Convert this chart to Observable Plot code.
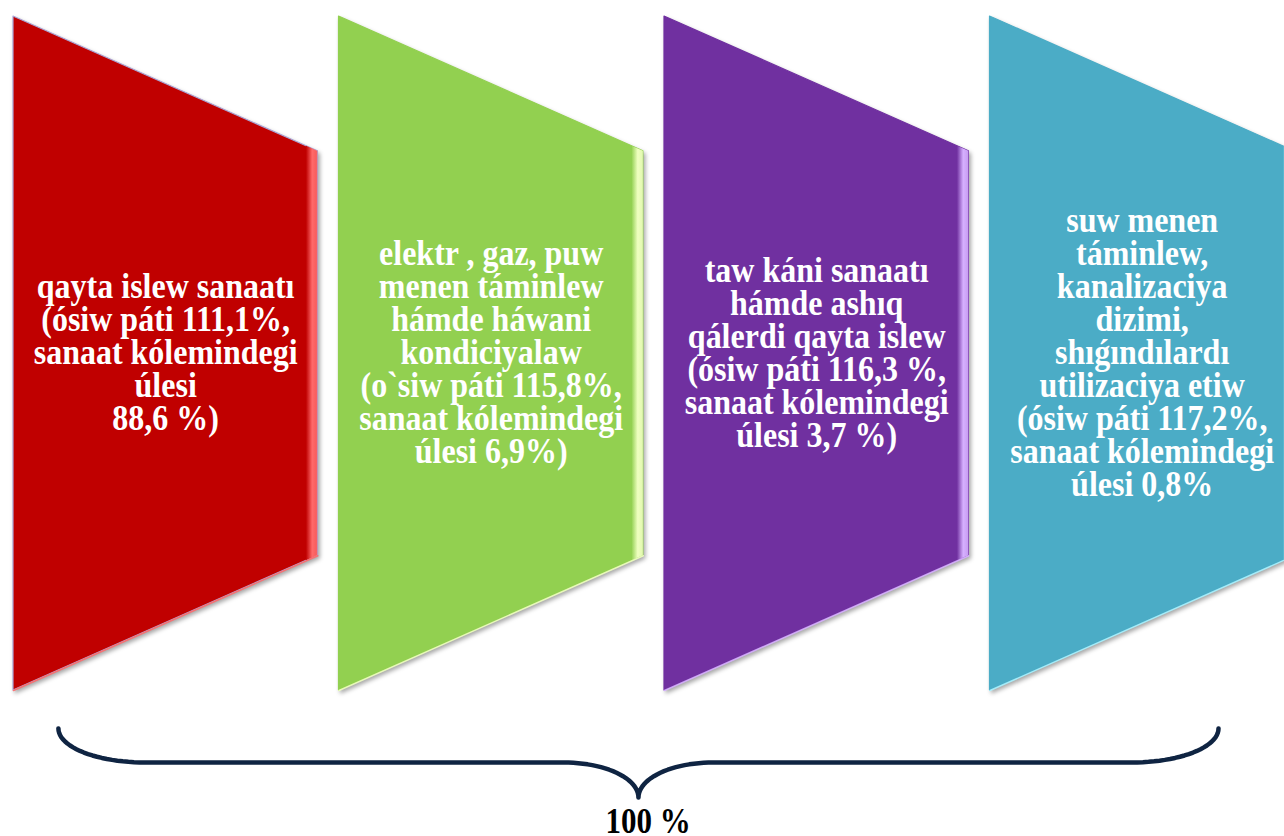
<!DOCTYPE html>
<html>
<head>
<meta charset="utf-8">
<script src="https://cdn.jsdelivr.net/npm/d3@7"></script>
<script src="https://cdn.jsdelivr.net/npm/@observablehq/plot@0.6"></script>
<style>
  html, body { margin: 0; padding: 0; background: #ffffff; }
  #chart svg { display: block; }
  .shape-g { filter: drop-shadow(2px 3px 2px rgba(0,0,0,0.35)); }
</style>
</head>
<body>
<div id="chart"></div>
<script>
// ---------- data ----------
const categories = [
  "qayta islew sanaatı",
  "elektr, gaz, puw menen táminlew hámde háwani kondiciyalaw",
  "taw káni sanaatı hámde ashıq qálerdi qayta islew",
  "suw menen táminlew, kanalizaciya dizimi, shıǵındılardı utilizaciya etiw"
];
const growthRates = [111.1, 115.8, 116.3, 117.2];   // ósiw páti, %
const shares = [88.6, 6.9, 3.7, 0.8];               // sanaat kólemindegi úlesi, %
const labelLines = [
  ["qayta islew sanaatı", "(ósiw páti 111,1%,", "sanaat kólemindegi", "úlesi", "88,6 %)"],
  ["elektr , gaz, puw", "menen táminlew", "hámde háwani", "kondiciyalaw", "(o`siw páti 115,8%,", "sanaat kólemindegi", "úlesi 6,9%)"],
  ["taw káni sanaatı", "hámde ashıq", "qálerdi qayta islew", "(ósiw páti 116,3 %,", "sanaat kólemindegi", "úlesi 3,7 %)"],
  ["suw menen", "táminlew,", "kanalizaciya", "dizimi,", "shıǵındılardı", "utilizaciya etiw", "(ósiw páti 117,2%,", "sanaat kólemindegi", "úlesi 0,8%"]
];
const totalLabel = "100 %";
const colors = ["#C00000", "#92D050", "#7030A0", "#4BACC6"];
const highlights = ["#ff6a6a", "#efffc0", "#d6b0ff", "#a8f2ff"];

// ---------- layout (category units) ----------
const W = 0.935;      // shape width
const S = 0.2;        // slope of the right side
const BEV = 0.035;    // bevel strip width
const braceStart = 0.138, braceEnd = 3.702;
const braceTop = -0.0564, braceFlat = -0.1068, braceTip = -0.1588;
const endCurve = 0.267, tipCurve = 0.23;

const shapes = categories.map((c, i) => [
  {i, x: i, lo: 0, hi: 1},
  {i, x: i + W, lo: S, hi: 1 - S}
]);
const bevels = categories.map((c, i) => [
  {i, x: i + W - BEV, lo: S * (W - BEV) / W, hi: 1 - S * (W - BEV) / W},
  {i, x: i + W, lo: S, hi: 1 - S}
]);
const labels = categories.map((c, i) => ({i, x: i + W / 2, y: 0.5, text: labelLines[i].join("\n")}));

// brace points
const brace = [];
const mid = (braceStart + braceEnd) / 2;
const N = 24;
for (let k = 0; k <= N; k++) {
  const t = (k / N) * Math.PI / 2;
  brace.push({x: braceStart + endCurve - endCurve * Math.cos(t), y: braceTop - (braceTop - braceFlat) * Math.sin(t)});
}
for (let k = 0; k <= N; k++) {
  const t = (k / N) * Math.PI / 2;
  brace.push({x: mid - tipCurve + tipCurve * Math.sin(t), y: braceTip + (braceFlat - braceTip) * Math.cos(t)});
}
for (let k = N; k >= 0; k--) {
  const t = (k / N) * Math.PI / 2;
  brace.push({x: mid + tipCurve - tipCurve * Math.sin(t), y: braceTip + (braceFlat - braceTip) * Math.cos(t)});
}
for (let k = N; k >= 0; k--) {
  const t = (k / N) * Math.PI / 2;
  brace.push({x: braceEnd - endCurve + endCurve * Math.cos(t), y: braceTop - (braceTop - braceFlat) * Math.sin(t)});
}

const FONT = "'Liberation Serif', 'Times New Roman', serif";
const STRETCH = 1.14;

const marks = [];
categories.forEach((c, i) => {
  marks.push(Plot.area(shapes[i], {x1: "x", y1: "lo", y2: "hi", fill: colors[i], curve: "linear",
    stroke: i === 0 ? "#aaa4d6" : colors[i], strokeWidth: 1.2}));
  marks.push(Plot.area(bevels[i], {x1: "x", y1: "lo", y2: "hi", fill: `url(#bev${i})`, curve: "linear"}));
  marks.push(Plot.line(shapes[i], {x: "x", y: "lo", stroke: highlights[i], strokeWidth: 1.5, strokeOpacity: 0.9}));
});
marks.push(Plot.text(labels, {x: "x", y: "y", text: "text", fill: "white", fontSize: 32, fontWeight: "bold",
  fontFamily: FONT, lineHeight: 33 / STRETCH / 32, lineAnchor: "middle", textAnchor: "middle"}));
marks.push(Plot.line(brace, {x: "x", y: "y", stroke: "#0F2442", strokeWidth: 4.5, strokeLinejoin: "round", curve: "linear"}));
marks.push(Plot.text([{x: mid + 0.03, y: -0.195, text: totalLabel}], {x: "x", y: "y", text: "text", fill: "#000",
  fontSize: 31, fontWeight: "bold", fontFamily: FONT}));

const plot = Plot.plot({
  width: 1284,
  height: 836,
  margin: 0,
  x: {domain: [0, 4], range: [13, 1315], axis: null},
  y: {domain: [0, 1], range: [690, 16], axis: null},
  style: {background: "white", overflow: "visible"},
  marks
});

// defs: bevel gradients
const svg = d3.select(plot);
const defs = svg.insert("defs", ":first-child");
colors.forEach((col, i) => {
  const g = defs.append("linearGradient").attr("id", `bev${i}`).attr("x1", 0).attr("x2", 1).attr("y1", 0).attr("y2", 0);
  g.append("stop").attr("offset", "0%").attr("stop-color", col);
  g.append("stop").attr("offset", "55%").attr("stop-color", highlights[i]);
  g.append("stop").attr("offset", "100%").attr("stop-color", highlights[i]).attr("stop-opacity", 0.85);
});
// shadow on the main shapes
svg.selectAll("g[fill]").filter(function() {
  return colors.map(c => c.toLowerCase()).includes((this.getAttribute("fill") || "").toLowerCase());
}).classed("shape-g", true);

// slight vertical stretch of the text (as in the original), only where positioned by transform
svg.selectAll('g[font-size] text').each(function() {
  const t = this.getAttribute("transform");
  if (t && t.includes("translate")) this.setAttribute("transform", `${t} scale(1,${STRETCH})`);
});

document.getElementById("chart").appendChild(plot);
</script>
</body>
</html>
